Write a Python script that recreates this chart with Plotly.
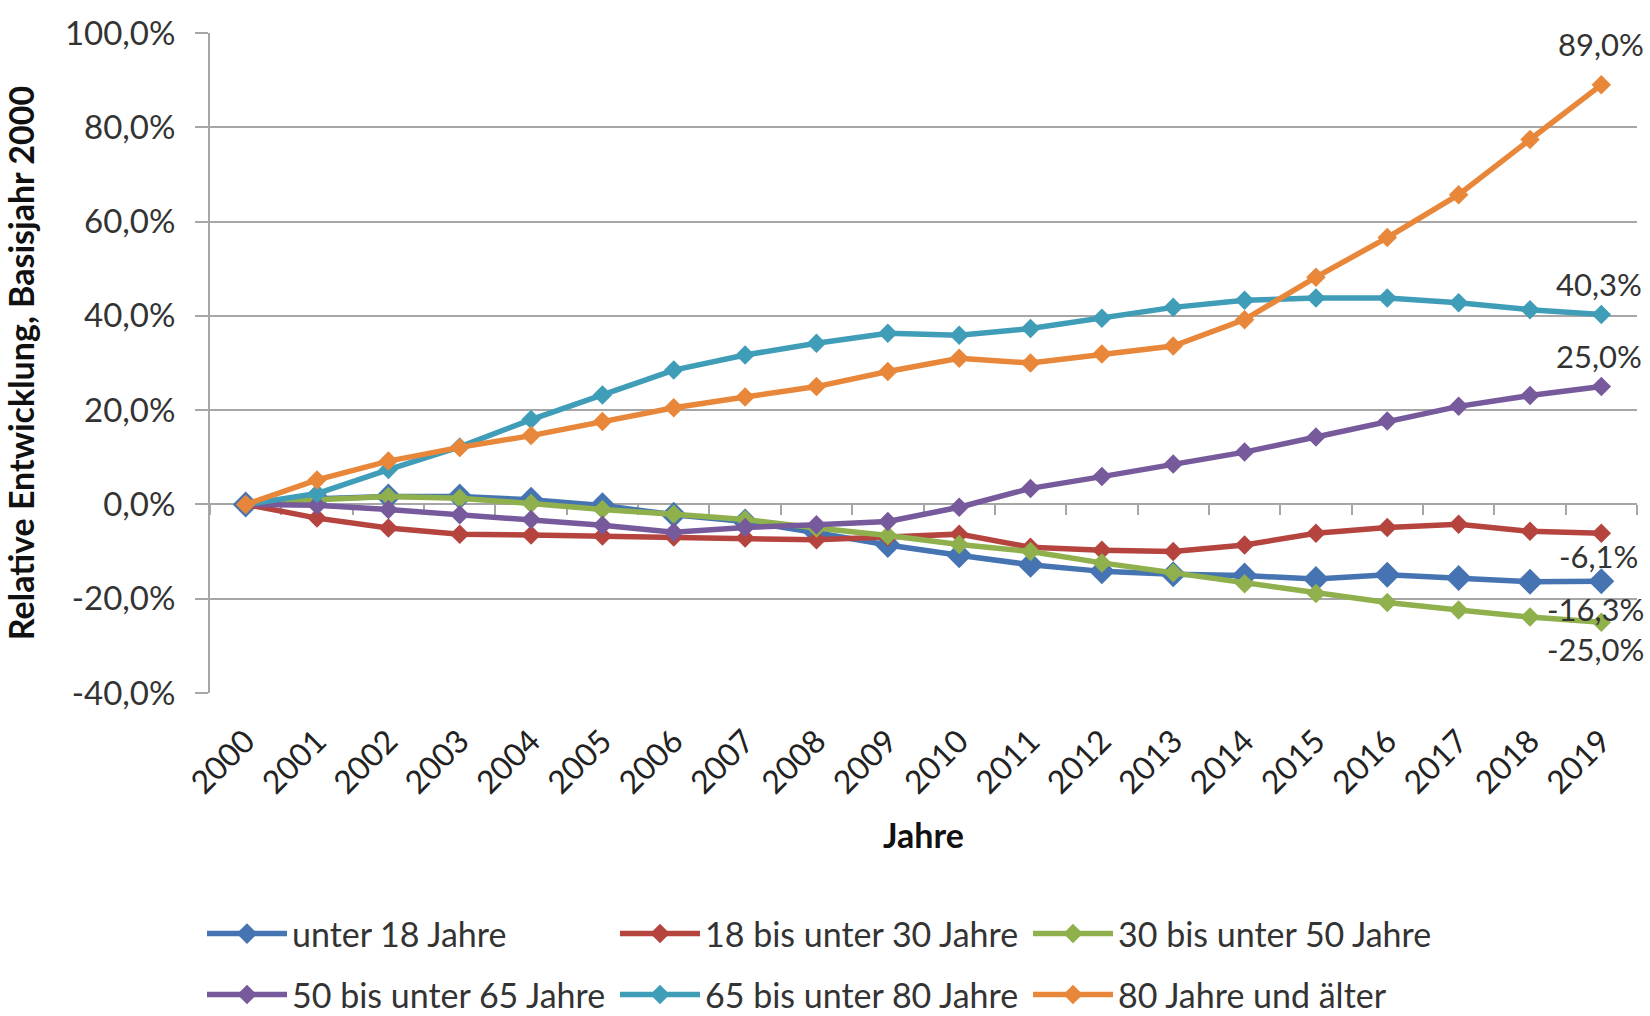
import plotly.graph_objects as go

# ---------------- data ----------------
years = ["2000", "2001", "2002", "2003", "2004", "2005", "2006", "2007", "2008", "2009",
         "2010", "2011", "2012", "2013", "2014", "2015", "2016", "2017", "2018", "2019"]

unter_18 = [0.0, 1.2, 1.7, 1.7, 1.0, -0.2, -2.2, -3.6, -6.0, -8.6,
            -10.8, -12.8, -14.2, -14.8, -15.1, -15.8, -14.9, -15.6, -16.4, -16.3]
bis_30 = [0.0, -2.9, -5.0, -6.3, -6.5, -6.7, -6.9, -7.1, -7.5, -6.9,
          -6.3, -9.1, -9.7, -10.0, -8.6, -6.1, -4.9, -4.2, -5.7, -6.1]
bis_50 = [0.0, 1.0, 1.7, 1.3, 0.2, -1.1, -2.1, -3.2, -5.0, -6.6,
          -8.5, -10.0, -12.4, -14.5, -16.8, -18.9, -20.8, -22.4, -23.9, -25.0]
bis_65 = [0.0, -0.2, -1.1, -2.2, -3.2, -4.4, -5.9, -4.9, -4.3, -3.6,
          -0.6, 3.4, 5.9, 8.6, 11.1, 14.3, 17.7, 20.8, 23.1, 25.0]
bis_80 = [0.0, 2.3, 7.4, 12.2, 18.0, 23.2, 28.5, 31.7, 34.2, 36.3,
          35.9, 37.3, 39.5, 41.8, 43.3, 43.8, 43.8, 42.8, 41.3, 40.3]
ab_80 = [0.0, 5.2, 9.2, 12.1, 14.6, 17.6, 20.5, 22.8, 25.0, 28.2,
         31.0, 30.0, 31.9, 33.6, 39.2, 48.2, 56.6, 65.7, 77.4, 89.0]

series_names = ["unter 18 Jahre", "18 bis unter 30 Jahre", "30 bis unter 50 Jahre",
                "50 bis unter 65 Jahre", "65 bis unter 80 Jahre", "80 Jahre und älter"]
series_values = [unter_18, bis_30, bis_50, bis_65, bis_80, ab_80]

y_tick_vals = [-40, -20, 0, 20, 40, 60, 80, 100]
y_tick_text = ["-40,0%", "-20,0%", "0,0%", "20,0%", "40,0%", "60,0%", "80,0%", "100,0%"]

# ---------------- styles ----------------
colors = ["#4674b2", "#b5443f", "#8fb04c", "#775a9c", "#3f9db8", "#e8873a"]
marker_sizes = [20, 15, 15, 15, 15, 15]
line_widths = [5.5, 5.5, 5.5, 5.5, 5.5, 5.5]
legend_ids = ["legend", "legend", "legend", "legend2", "legend2", "legend2"]
label_yshift = [-28, -23, -27, 31, 30, 41]
label_xshift = [-6, -3, -6, -2, -2, 0]
FONT = "Lato, 'Open Sans', sans-serif"
GRID = "#a6a6a6"
TXT = "#333333"


def fmt(v):
    return f"{v:.1f}%".replace(".", ",")


fig = go.Figure()
for name, vals, col, ms, lw, lg in zip(series_names, series_values, colors,
                                       marker_sizes, line_widths, legend_ids):
    fig.add_trace(go.Scatter(
        x=years, y=vals, name=name, mode="lines+markers",
        line=dict(color=col, width=lw),
        marker=dict(symbol="diamond", size=ms, color=col),
        cliponaxis=False, legend=lg,
    ))

# end-of-series data labels, anchored at the last data point of each series
last_idx = len(years) - 1  # category index of the last year
for vals, ys, xs in zip(series_values, label_yshift, label_xshift):
    fig.add_annotation(
        x=last_idx, y=vals[-1], xref="x", yref="y", text=fmt(vals[-1]),
        showarrow=False, xshift=xs, yshift=ys, xanchor="center", yanchor="middle",
        font=dict(family=FONT, size=31, color=TXT),
    )

# helper trace so the zero-crossing category axis is drawn
fig.add_trace(go.Scatter(x=years, y=[None] * len(years), xaxis="x2", yaxis="y",
                         showlegend=False, hoverinfo="skip", mode="lines"))

legend_common = dict(
    orientation="h", xref="container", yref="container",
    xanchor="left", yanchor="middle",
    entrywidth=318, entrywidthmode="pixels", itemwidth=80,
    font=dict(family=FONT, size=34, color=TXT), bgcolor="rgba(0,0,0,0)",
)

fig.update_layout(
    width=1650, height=1016,
    margin=dict(l=210, r=13, t=27, b=323),
    paper_bgcolor="white", plot_bgcolor="white",
    font=dict(family=FONT, color=TXT),
    showlegend=True,
    xaxis=dict(
        type="category", categoryorder="array", categoryarray=years,
        range=[-0.5, 19.5], showgrid=False, showline=False, zeroline=False,
        ticks="", tickangle=-45, ticklabelstandoff=22,
        tickfont=dict(family=FONT, size=32, color="#222222"),
        title=dict(text="<b>Jahre</b>", font=dict(family=FONT, size=34, color="#111111"),
                   standoff=24),
    ),
    xaxis2=dict(
        type="category", categoryorder="array", categoryarray=years,
        range=[-0.5, 19.5], overlaying="x", anchor="free",
        position=40 / 140, side="bottom", layer="below traces",
        showline=True, linecolor=GRID, linewidth=2,
        ticks="outside", ticklen=10, tickwidth=2, tickcolor=GRID,
        tickson="boundaries", showticklabels=False, showgrid=False, zeroline=False,
    ),
    yaxis=dict(
        range=[-40, 100], tickvals=y_tick_vals, ticktext=y_tick_text,
        showgrid=True, gridcolor=GRID, gridwidth=2,
        showline=True, linecolor=GRID, linewidth=2, zeroline=False,
        ticks="outside", ticklen=13, tickwidth=2, tickcolor=GRID,
        ticklabelstandoff=13, layer="below traces",
        tickfont=dict(family=FONT, size=33, color=TXT),
        title=dict(text="<b>Relative Entwicklung, Basisjahr 2000</b>",
                   font=dict(family=FONT, size=34, color="#111111"), standoff=24),
    ),
    legend=dict(x=202 / 1650, y=(1016 - 934) / 1016, **legend_common),
    legend2=dict(x=202 / 1650, y=(1016 - 995) / 1016, **legend_common),
)

fig.write_html("out.html", config={"displayModeBar": False},
               post_script="document.body.style.margin='0';document.body.style.overflow='hidden';")
